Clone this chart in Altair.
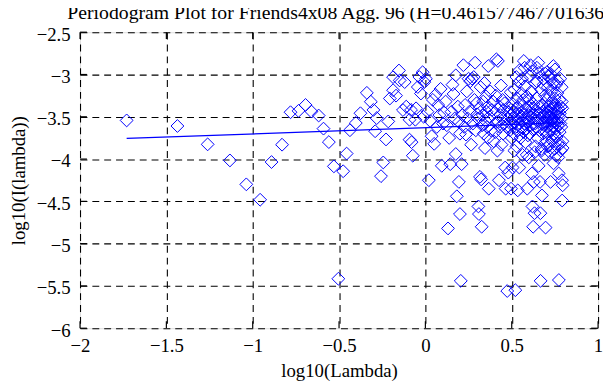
import altair as alt
import pandas as pd

TITLE = "Periodogram Plot for Friends4x08 Agg. 96 (H=0.461577467701636)"
FONT = "Liberation Serif"

x_ticks = [-2, -1.5, -1, -0.5, 0, 0.5, 1]
y_ticks = [-2.5, -3, -3.5, -4, -4.5, -5, -5.5, -6]

# log10(lambda) < 0
x_low = [-1.730, -1.436, -1.261, -1.132, -1.037, -0.957, -0.891, -0.830, -0.781, -0.735,
         -0.694, -0.660, -0.618, -0.590, -0.559, -0.530, -0.504, -0.476, -0.456, -0.437,
         -0.403, -0.376, -0.339, -0.316, -0.301, -0.291, -0.282, -0.257, -0.244, -0.228,
         -0.215, -0.206, -0.187, -0.187, -0.170, -0.153, -0.149, -0.130, -0.120, -0.111,
         -0.092, -0.092, -0.083, -0.080, -0.073, -0.058, -0.054, -0.044, -0.035, -0.026,
         -0.016, -0.010, -0.006]
y_low = [-3.543, -3.609, -3.826, -4.016, -4.299, -4.481, -4.035, -3.830, -3.446, -3.430,
         -3.360, -3.438, -3.485, -3.640, -3.799, -4.086, -5.415, -4.144, -3.935, -3.659,
         -3.574, -3.458, -3.217, -3.322, -3.419, -3.671, -3.516, -4.202, -4.040, -3.768,
         -3.555, -3.284, -3.186, -3.031, -3.250, -2.953, -3.070, -3.420, -3.090, -3.380,
         -3.535, -3.770, -3.419, -3.800, -3.960, -3.535, -3.400, -3.148, -3.030, -3.225,
         -2.973, -3.500, -3.090]

# 0 <= log10(lambda) <= 0.5
x_mid = [0.003, 0.012, 0.020, 0.028, 0.036, 0.043, 0.051, 0.059, 0.066, 0.074, 0.081, 0.088, 0.095, 0.102,
         0.109, 0.117, 0.124, 0.131, 0.138, 0.144, 0.151, 0.157, 0.163, 0.170, 0.176, 0.176, 0.182, 0.188,
         0.194, 0.194, 0.200, 0.200,
         0.205, 0.210, 0.215, 0.220, 0.225, 0.230, 0.235, 0.240, 0.245, 0.250, 0.255, 0.260, 0.265, 0.270,
         0.275, 0.280, 0.284, 0.288, 0.292, 0.296, 0.300,
         0.304, 0.307, 0.310, 0.313, 0.316, 0.320, 0.323, 0.326, 0.329, 0.332, 0.335, 0.338, 0.342, 0.345,
         0.348, 0.351, 0.354, 0.357, 0.361, 0.364, 0.364, 0.367, 0.371, 0.375, 0.380, 0.385, 0.392, 0.396,
         0.402, 0.405, 0.408, 0.411, 0.414, 0.417, 0.420, 0.423, 0.426, 0.429, 0.432, 0.435, 0.438, 0.441,
         0.444, 0.447, 0.450, 0.453, 0.456, 0.459, 0.462, 0.465, 0.468, 0.471, 0.474, 0.477, 0.480, 0.483,
         0.486, 0.489, 0.492, 0.494, 0.496, 0.498, 0.500]
y_mid = [-3.05, -3.44, -4.25, -3.55, -3.73, -3.30, -3.82, -3.24, -3.62, -3.36, -3.48, -3.17, -4.08, -3.58,
         -3.45, -3.32, -3.60, -4.82, -3.75, -4.06, -3.44, -3.12, -3.23, -3.52, -3.01, -3.94, -4.44, -3.38,
         -3.56, -4.27, -4.65, -3.70,
         -5.44, -4.06, -3.48, -2.89, -3.62, -3.36, -3.71, -3.20, -3.52, -3.05, -3.44, -3.08, -3.83, -3.05,
         -3.58, -3.03, -3.30, -2.86, -3.66, -3.34, -3.47,
         -3.52, -4.56, -4.65, -3.40, -4.21, -3.15, -4.24, -4.80, -3.60, -3.48, -3.32, -3.70, -3.10, -3.87,
         -3.55, -3.26, -3.44, -3.62, -3.38, -2.90, -3.75, -4.35, -3.50, -3.20, -3.66, -3.42, -3.32, -3.79,
         -3.45, -3.68, -3.25, -2.82, -3.56, -3.90, -2.84, -3.56, -4.25, -3.38, -3.62, -3.48, -3.13, -3.83,
         -3.52, -3.30, -3.70, -3.42, -3.58, -3.34, -4.10, -4.35, -3.50, -3.62, -5.56, -3.52, -4.16, -3.45,
         -3.40, -3.66, -3.55, -3.21, -4.35, -3.48, -3.75]

# log10(lambda) > 0.5
x_high = [0.502, 0.505, 0.507, 0.509, 0.512, 0.514, 0.516, 0.519, 0.521, 0.523, 0.526, 0.528, 0.530, 0.533,
          0.535, 0.537, 0.540, 0.542, 0.544, 0.546, 0.548, 0.551, 0.553, 0.555, 0.557, 0.559, 0.562, 0.564,
          0.566, 0.568, 0.570, 0.572, 0.574, 0.577, 0.579, 0.581, 0.583, 0.585, 0.588, 0.590, 0.592, 0.594,
          0.596, 0.598,
          0.601, 0.603, 0.605, 0.607, 0.609, 0.611, 0.613, 0.615, 0.617, 0.619, 0.620, 0.622, 0.624, 0.626,
          0.628, 0.630, 0.632, 0.634, 0.636, 0.638, 0.640, 0.642, 0.644, 0.646, 0.648, 0.650, 0.652, 0.654,
          0.656, 0.658, 0.660, 0.662, 0.664, 0.666, 0.667, 0.669, 0.671, 0.673, 0.675, 0.677, 0.679, 0.681,
          0.683, 0.685, 0.687, 0.688, 0.690, 0.692, 0.694, 0.696, 0.697, 0.699, 0.700, 0.700, 0.700,
          0.701, 0.703, 0.704, 0.706, 0.707, 0.709, 0.710, 0.712, 0.713, 0.715, 0.716, 0.718, 0.719, 0.721,
          0.722, 0.724, 0.725, 0.727, 0.728, 0.730, 0.731, 0.733, 0.734, 0.736, 0.737, 0.739, 0.740, 0.742,
          0.743, 0.745, 0.746, 0.748, 0.749, 0.751, 0.752, 0.754, 0.755, 0.757, 0.758, 0.760, 0.761, 0.763,
          0.764, 0.766, 0.767, 0.769, 0.770, 0.772, 0.773, 0.775, 0.776, 0.778, 0.779, 0.781, 0.782, 0.784,
          0.785, 0.787, 0.788, 0.790, 0.791, 0.792, 0.793, 0.794, 0.795, 0.795,
          0.545, 0.560, 0.575, 0.587, 0.605, 0.618, 0.633, 0.645, 0.657, 0.672,
          0.684, 0.705, 0.717, 0.729, 0.741, 0.756, 0.768, 0.780, 0.789, 0.515,
          0.527, 0.599]
y_high = [-3.60, -4.10, -3.35, -3.52, -3.44, -3.70, -3.18, -3.56, -5.55, -3.62, -3.40, -3.85, -3.28, -3.50,
          -4.37, -3.66, -3.46, -3.09, -4.10, -3.58, -3.36, -3.75, -3.52, -3.22, -3.62, -3.44, -3.95, -3.54,
          -3.30, -3.68, -2.84, -3.48, -3.58, -3.14, -3.80, -3.40, -3.64, -3.52, -3.26, -4.35, -3.56, -3.72,
          -3.38, -3.48,
          -3.55, -3.30, -3.70, -3.45, -2.89, -3.60, -3.20, -3.50, -4.17, -3.40, -4.56, -3.65, -4.80, -3.35,
          -4.27, -3.52, -4.64, -3.10, -3.58, -3.85, -3.42, -3.62, -3.28, -2.92, -3.48, -3.75, -3.55, -2.86,
          -4.08, -3.38, -3.66, -3.46, -4.27, -4.64, -5.44, -3.52, -3.18, -3.90, -4.43, -3.58, -3.36, -3.70,
          -3.44, -3.05, -3.60, -3.50, -3.95, -3.25, -2.99, -4.81, -3.56, -3.40, -3.68, -3.48, -3.78,
          -3.52, -3.30, -3.62, -3.44, -3.85, -3.15, -3.56, -3.38, -3.70, -3.48, -3.02, -3.60, -3.25, -3.92,
          -3.50, -2.99, -4.27, -3.42, -3.66, -3.55, -3.20, -3.78, -3.46, -3.34, -3.62, -3.10, -3.52, -4.05,
          -3.40, -3.70, -3.56, -3.28, -3.88, -2.94, -3.48, -3.64, -3.36, -3.58, -3.12, -3.74, -3.45, -3.54,
          -3.22, -3.82, -3.60, -3.40, -3.98, -4.17, -5.43, -3.50, -3.30, -3.68, -3.46, -3.05, -3.58, -3.90,
          -3.38, -3.62, -3.52, -3.32, -4.25, -4.49, -3.40, -3.79, -3.87, -4.31,
          -2.95, -3.05, -2.92, -3.95, -3.02, -2.96, -3.92, -3.08, -2.98, -3.88,
          -3.12, -2.97, -3.84, -3.06, -2.90, -3.96, -3.08, -3.82, -3.15, -3.90,
          -3.03, -3.98]

# least-squares fit line end points
fit_x = [-1.730, 0.800]
fit_y = [-3.756, -3.570]

W, H = 525, 300
TL = 7  # inward tick length

rows = []
for xs, ys in ((x_low, y_low), (x_mid, y_mid), (x_high, y_high)):
    rows += [{"lx": a, "ly": b} for a, b in zip(xs, ys)]
pts = pd.DataFrame(rows)
fit = pd.DataFrame({"lx": fit_x, "ly": fit_y})
xt = pd.DataFrame({"lx": x_ticks})
yt = pd.DataFrame({"ly": y_ticks})

xs_ = alt.Scale(domain=[-2, 1], nice=False, zero=False)
ys_ = alt.Scale(domain=[-6, -2.5], nice=False, zero=False)

common_axis = dict(format="~g", grid=True, gridDash=[7, 5], gridColor="black", gridWidth=1.1,
                   gridOpacity=1, ticks=False, tickSize=0, domain=False, labelFlush=False,
                   labelOverlap=False, labelBound=False, labelFont=FONT, labelFontSize=19,
                   labelColor="black", titleFont=FONT, titleFontSize=19, titleColor="black",
                   titleFontWeight="normal")

x_axis = alt.Axis(values=x_ticks, title="log10(Lambda)", labelPadding=9, titlePadding=6, **common_axis)
y_axis = alt.Axis(values=y_ticks, title="log10(I(lambda))", labelPadding=10, titlePadding=8,
                  labelOffset=2, **common_axis)

X = alt.X("lx:Q", scale=xs_, axis=x_axis)
Y = alt.Y("ly:Q", scale=ys_, axis=y_axis)

points = alt.Chart(pts).mark_point(
    shape="diamond", filled=False, size=169, color="#0000ff", strokeWidth=1, opacity=1
).encode(x=X, y=Y)

line = alt.Chart(fit).mark_line(color="#0000ff", strokeWidth=1.3).encode(x=X, y=Y)

tick_bottom = alt.Chart(xt).mark_rule(color="black", strokeWidth=1.2).encode(
    x=X, y=alt.value(H - TL), y2=alt.value(H))
tick_top = alt.Chart(xt).mark_rule(color="black", strokeWidth=1.2).encode(
    x=X, y=alt.value(0), y2=alt.value(TL))
tick_left = alt.Chart(yt).mark_rule(color="black", strokeWidth=1.2).encode(
    y=Y, x=alt.value(0), x2=alt.value(TL))
tick_right = alt.Chart(yt).mark_rule(color="black", strokeWidth=1.2).encode(
    y=Y, x=alt.value(W - TL), x2=alt.value(W))

chart = alt.layer(points, tick_bottom, tick_top, tick_left, tick_right, line).properties(
    width=W,
    height=H,
    autosize=alt.AutoSizeParams(type="none"),
    padding={"left": 73, "top": 22, "right": 5, "bottom": 55},
    title=alt.Title(TITLE, font=FONT, fontSize=20, fontWeight="normal", color="black",
                    offset=2, anchor="middle"),
).configure_view(
    stroke="black", strokeWidth=1.5
).configure(background="white")

chart.save("out.html", embed_options={"renderer": "svg", "actions": False})
